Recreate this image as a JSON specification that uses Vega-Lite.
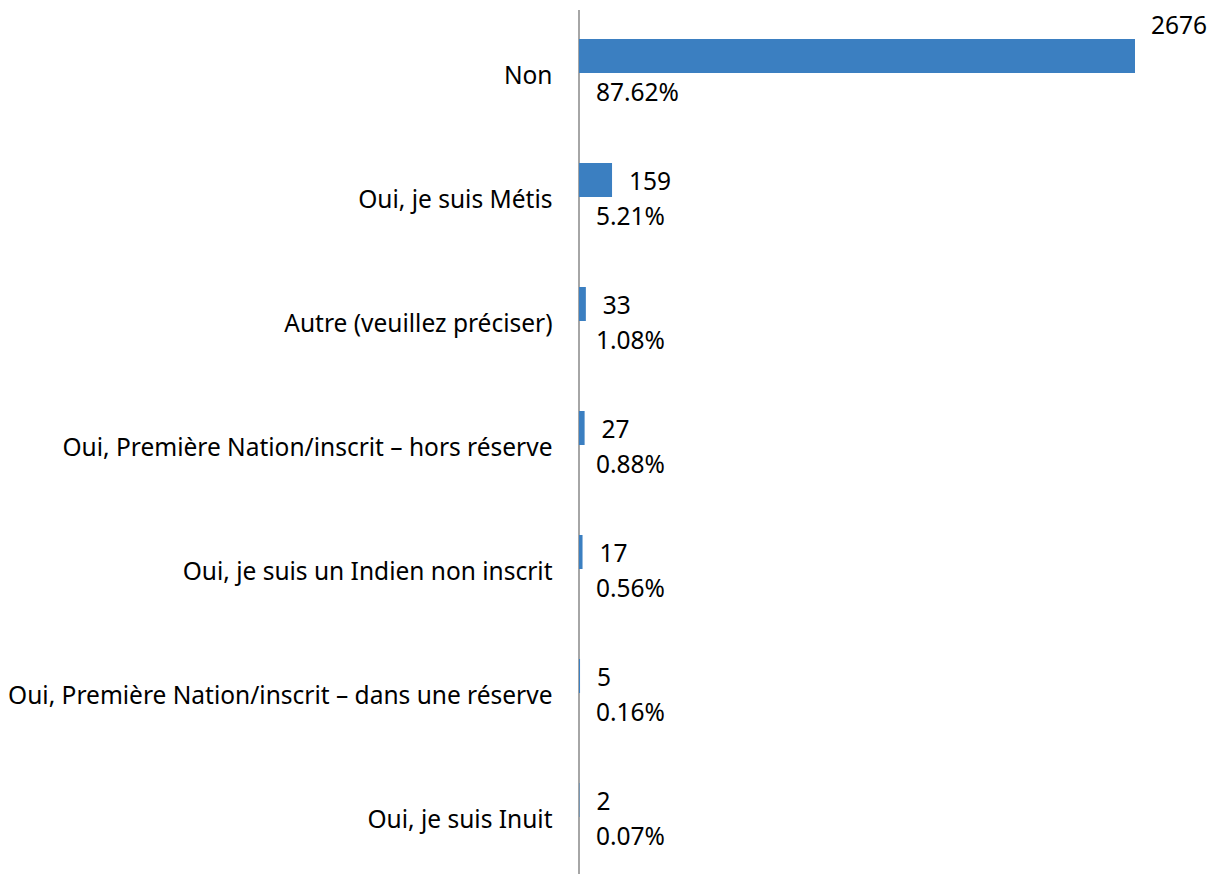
{
  "$schema": "https://vega.github.io/schema/vega-lite/v6.json",
  "autosize": {"type": "none"},
  "width": 556,
  "height": 864,
  "padding": {"left": 579, "top": 10, "right": 90, "bottom": 0},
  "background": "white",
  "config": {"view": {"stroke": null}, "font": "Noto Sans"},
  "data": {
    "values": [
      {"cat": "Non", "count": 2676, "pct": "87.62%"},
      {"cat": "Oui, je suis Métis", "count": 159, "pct": "5.21%"},
      {"cat": "Autre (veuillez préciser)", "count": 33, "pct": "1.08%"},
      {"cat": "Oui, Première Nation/inscrit – hors réserve", "count": 27, "pct": "0.88%"},
      {"cat": "Oui, je suis un Indien non inscrit", "count": 17, "pct": "0.56%"},
      {"cat": "Oui, Première Nation/inscrit – dans une réserve", "count": 5, "pct": "0.16%"},
      {"cat": "Oui, je suis Inuit", "count": 2, "pct": "0.07%"}
    ]
  },
  "layer": [
    {
      "data": {"values": [{}]},
      "mark": {"type": "rule", "color": "#a6a6a6", "strokeWidth": 2},
      "encoding": {"x": {"datum": 0, "type": "quantitative", "scale": {"domain": [0, 2676], "nice": false, "zero": true}, "axis": null}}
    },
    {
      "encoding": {
        "y": {
          "field": "cat",
          "type": "nominal",
          "sort": null,
          "scale": {"range": [5, 873], "paddingInner": 0, "paddingOuter": 0},
          "axis": {
            "title": null,
            "domain": false,
            "ticks": false,
            "labelPadding": 27,
            "labelFont": "Noto Sans",
            "labelFontSize": 24.5,
            "labelColor": "#000000",
            "labelLimit": 700
          }
        }
      },
      "layer": [
        {
          "mark": {"type": "bar", "color": "#3b7fc1", "height": 34, "yOffset": -21},
          "encoding": {
            "x": {"field": "count", "type": "quantitative", "scale": {"domain": [0, 2676], "nice": false, "zero": true}, "axis": null}
          }
        },
        {
          "transform": [{"filter": "datum.count < 1000"}],
          "mark": {"type": "text", "align": "left", "baseline": "middle", "dx": 17, "dy": -18, "fontSize": 24.5, "color": "#000000"},
          "encoding": {
            "x": {"field": "count", "type": "quantitative"},
            "text": {"field": "count", "type": "quantitative", "format": "d"}
          }
        },
        {
          "transform": [{"filter": "datum.count >= 1000"}],
          "mark": {"type": "text", "align": "left", "baseline": "middle", "dx": 16, "dy": -50, "fontSize": 24.5, "color": "#000000"},
          "encoding": {
            "x": {"field": "count", "type": "quantitative"},
            "text": {"field": "count", "type": "quantitative", "format": "d"}
          }
        },
        {
          "mark": {"type": "text", "align": "left", "baseline": "middle", "dx": 17, "dy": 17, "fontSize": 24.5, "color": "#000000"},
          "encoding": {
            "x": {"datum": 0, "type": "quantitative"},
            "text": {"field": "pct", "type": "nominal"}
          }
        }
      ]
    }
  ]
}
